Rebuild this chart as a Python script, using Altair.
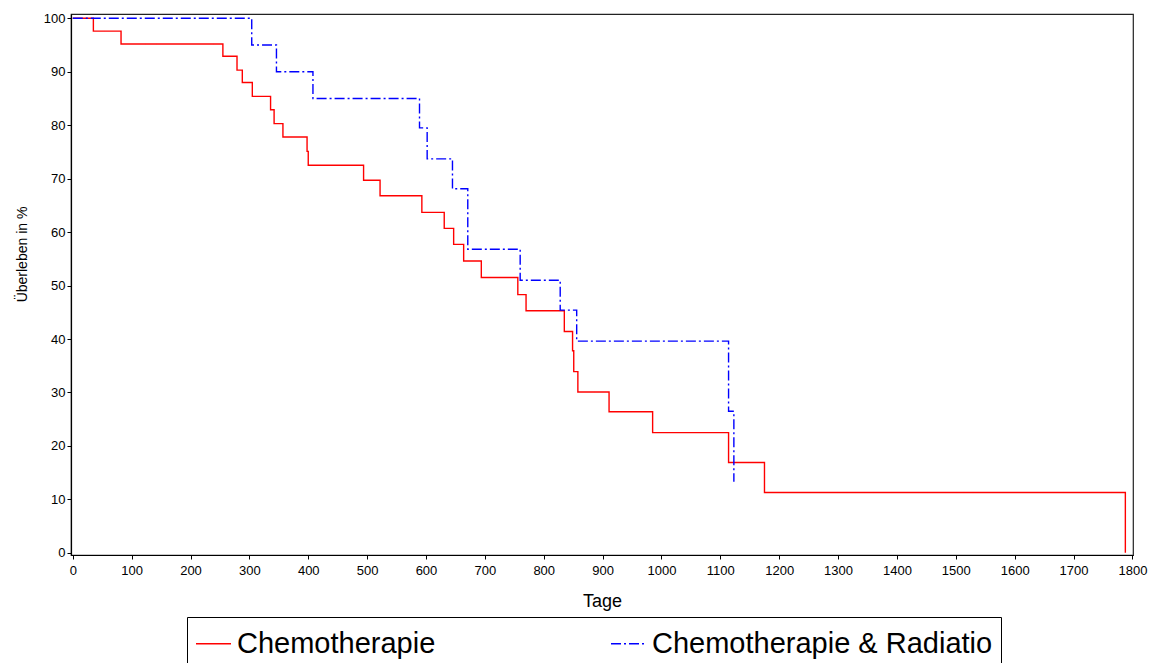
import altair as alt
import pandas as pd

# Kaplan-Meier step points
chemo_days = [0, 35, 82, 255, 279, 288, 305, 336, 342, 357, 398, 400, 494, 522, 593,
              631, 647, 664, 694, 756, 770, 835, 849, 851, 858, 911, 985, 1114, 1175, 1788]
chemo_surv = [100, 97.6, 95.2, 92.9, 90.3, 88.0, 85.4, 82.9, 80.3, 77.8, 75.1, 72.5, 69.7,
              66.8, 63.7, 60.7, 57.7, 54.6, 51.5, 48.3, 45.3, 41.4, 37.8, 33.9, 30.1, 26.4,
              22.5, 16.9, 11.3, 0]

radio_days = [0, 304, 346, 408, 589, 602, 645, 671, 760, 828, 856, 1114, 1123]
radio_surv = [100, 95, 90, 85, 79.5, 73.7, 68.1, 56.8, 51.0, 45.4, 39.6, 26.5, 13.3]

groups = ["Chemotherapie", "Chemotherapie & Radiatio"]
colors = ["#ff0000", "#0000ff"]
dashes = [[1, 0], [10, 3, 2, 3]]
x_ticks = list(range(0, 1801, 100))
y_ticks = list(range(0, 101, 10))

rows = []
for i, (d, s) in enumerate(zip(chemo_days, chemo_surv)):
    rows.append({"Tage": d, "surv": s, "group": groups[0], "idx": i})
for i, (d, s) in enumerate(zip(radio_days, radio_surv)):
    rows.append({"Tage": d, "surv": s, "group": groups[1], "idx": i})
df = pd.DataFrame(rows)


def make_legend():
    return alt.Legend(title=None, orient="none", legendX=116, legendY=603,
                      direction="horizontal", columns=2, columnPadding=172,
                      padding=8, strokeColor="black", fillColor="white",
                      labelFontSize=29, labelOffset=5, symbolType="stroke",
                      symbolSize=1225, symbolStrokeWidth=1.5, labelLimit=600)


chart = alt.Chart(df).mark_line(interpolate="step-after", strokeWidth=1.4).encode(
    x=alt.X("Tage:Q",
            scale=alt.Scale(domain=[-3, 1801], nice=False, zero=False),
            axis=alt.Axis(values=x_ticks, format="d", title="Tage", titleFontSize=18,
                          titleFontWeight="normal", titleY=46, titleBaseline="middle",
                          labelFlush=False, labelOverlap=False)),
    y=alt.Y("surv:Q",
            scale=alt.Scale(domain=[-0.4, 100.8], nice=False, zero=False),
            axis=alt.Axis(values=y_ticks, format="d", title="Überleben in %",
                          titleFontSize=14,
                          titleFont="Liberation Sans Narrow, Arial Narrow, Liberation Sans",
                          titleFontWeight="normal", titleX=-49, titleY=240,
                          titleAngle=270, titleAlign="center", titleBaseline="middle",
                          labelFlush=False, labelOverlap=False, labelPadding=2)),
    color=alt.Color("group:N",
                    scale=alt.Scale(domain=groups, range=colors),
                    legend=make_legend()),
    strokeDash=alt.StrokeDash("group:N",
                              scale=alt.Scale(domain=groups, range=dashes),
                              legend=make_legend()),
    order="idx:Q",
).properties(
    width=1062,
    height=541,
    autosize=alt.AutoSizeParams(type="none"),
    padding={"left": 71, "top": 14, "right": 19, "bottom": 108},
).configure(
    font="Liberation Sans",
).configure_view(
    stroke="#222222", strokeWidth=1.2,
).configure_axis(
    grid=False, domainColor="black", tickColor="black", labelColor="black",
    titleColor="black", labelFontSize=13, tickSize=4, labelPadding=5,
    domainWidth=1.2, tickWidth=1,
).configure_legend(
    labelColor="black", labelFont="Liberation Sans",
)

chart.save("out.html", embed_options={"renderer": "svg", "actions": False})
